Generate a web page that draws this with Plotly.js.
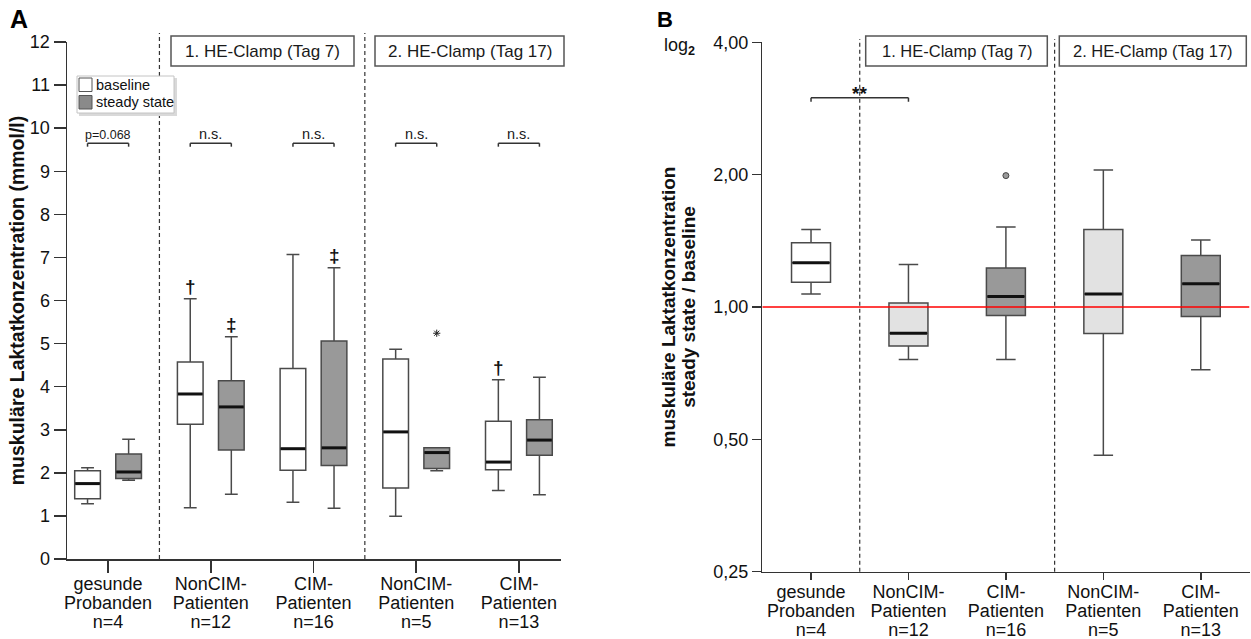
<!DOCTYPE html>
<html><head><meta charset="utf-8">
<script src="https://cdn.plot.ly/plotly-3.0.1.min.js"></script>
<style>html,body{margin:0;padding:0;background:#fff;} #chart{width:1251px;height:639px;}</style>
</head><body><div id="chart"></div>
<script>
// ---------- data ----------
const categoryLines = [
  ['gesunde', 'Probanden', 'n=4'],
  ['NonCIM-', 'Patienten', 'n=12'],
  ['CIM-', 'Patienten', 'n=16'],
  ['NonCIM-', 'Patienten', 'n=5'],
  ['CIM-', 'Patienten', 'n=13']
];
const seriesNames = ['baseline', 'steady state'];
const phaseLabels = ['1. HE-Clamp (Tag 7)', '2. HE-Clamp (Tag 17)'];

// Panel A: muskuläre Laktatkonzentration (mmol/l)
const baseLower  = [1.28, 1.19, 1.32, 0.99, 1.59];
const baseQ1     = [1.40, 3.13, 2.06, 1.65, 2.07];
const baseMedian = [1.75, 3.83, 2.56, 2.95, 2.25];
const baseQ3     = [2.05, 4.57, 4.42, 4.64, 3.20];
const baseUpper  = [2.12, 6.04, 7.07, 4.87, 4.16];
const steadyLower  = [1.83, 1.50, 1.18, 2.05, 1.49];
const steadyQ1     = [1.87, 2.53, 2.17, 2.10, 2.41];
const steadyMedian = [2.02, 3.53, 2.58, 2.47, 2.76];
const steadyQ3     = [2.44, 4.14, 5.06, 2.58, 3.23];
const steadyUpper  = [2.78, 5.16, 6.76, 2.58, 4.22];
const steadyExtremeGroup = [3];
const steadyExtremeValue = [5.24];
const baseMarks   = ['', '†', '', '', '†'];
const steadyMarks = ['', '‡', '‡', '', ''];
const pairLabels  = ['p=0.068', 'n.s.', 'n.s.', 'n.s.', 'n.s.'];
const yTicksA = [0,1,2,3,4,5,6,7,8,9,10,11,12];

// Panel B: ratio steady state / baseline (log2)
const ratioLower  = [1.07, 0.76, 0.76, 0.46, 0.72];
const ratioQ1     = [1.138, 0.815, 0.956, 0.87, 0.951];
const ratioMedian = [1.26, 0.871, 1.056, 1.07, 1.13];
const ratioQ3     = [1.40, 1.021, 1.227, 1.50, 1.31];
const ratioUpper  = [1.50, 1.25, 1.52, 2.05, 1.42];
const ratioOutlierGroup = [2];
const ratioOutlierValue = [1.99];
const ratioTicks    = [0.25, 0.5, 1, 2, 4];
const ratioTickText = ['0,25', '0,50', '1,00', '2,00', '4,00'];
const ratioSigLabel = '**';

// ---------- styles ----------
const FONT = 'Liberation Sans, Arial, Helvetica, sans-serif';
const W = 1251, H = 639;
const PX = v => v / W, PY = v => 1 - v / H;
const seriesFill = ['#ffffff', '#999999'];
const ratioFill = ['#ffffff', '#e2e2e2', '#999999', '#e2e2e2', '#999999'];
const BOXLINE = {color: '#4a4a4a', width: 1.5};
const idx = categoryLines.map((_, i) => i);
const tickText = categoryLines.map(l => l.map(s => '<span style="font-size:18px">' + s + '</span>').join('<br>'));

function medianLine(pos, med, half, xa, ya) {
  const xs = [], ys = [];
  pos.forEach((p, i) => { xs.push(p - half, p + half, null); ys.push(med[i], med[i], null); });
  return {type: 'scatter', mode: 'lines', x: xs, y: ys, xaxis: xa, yaxis: ya,
    line: {color: '#111', width: 3}, showlegend: false, hoverinfo: 'skip'};
}

const posBase = idx.map(i => i - 0.2);
const posSteady = idx.map(i => i + 0.2);

const traces = [
  {type: 'box', name: seriesNames[0], x: posBase, q1: baseQ1, median: baseMedian, q3: baseQ3,
   lowerfence: baseLower, upperfence: baseUpper, width: 0.25, whiskerwidth: 0.5,
   fillcolor: seriesFill[0], line: BOXLINE, boxpoints: false, showlegend: false, xaxis: 'x', yaxis: 'y'},
  {type: 'box', name: seriesNames[1], x: posSteady, q1: steadyQ1, median: steadyMedian, q3: steadyQ3,
   lowerfence: steadyLower, upperfence: steadyUpper, width: 0.25, whiskerwidth: 0.5,
   fillcolor: seriesFill[1], line: BOXLINE, boxpoints: false, showlegend: false, xaxis: 'x', yaxis: 'y'},
  medianLine(posBase, baseMedian, 0.12, 'x', 'y'),
  medianLine(posSteady, steadyMedian, 0.12, 'x', 'y'),
  {type: 'scatter', mode: 'markers', x: steadyExtremeGroup.map(g => g + 0.2), y: steadyExtremeValue,
   marker: {symbol: 'asterisk-open', size: 6, color: '#222', line: {color: '#222', width: 1}}, showlegend: false,
   xaxis: 'x', yaxis: 'y', hoverinfo: 'y'}
];

idx.forEach(i => {
  traces.push({type: 'box', name: categoryLines[i].join(' '), x: [i], q1: [ratioQ1[i]], median: [ratioMedian[i]],
    q3: [ratioQ3[i]], lowerfence: [ratioLower[i]], upperfence: [ratioUpper[i]], width: 0.4, whiskerwidth: 0.5,
    fillcolor: ratioFill[i], line: BOXLINE, boxpoints: false, showlegend: false, xaxis: 'x2', yaxis: 'y2'});
});
traces.push(medianLine(idx, ratioMedian, 0.19, 'x2', 'y2'));
traces.push({type: 'scatter', mode: 'markers', x: ratioOutlierGroup, y: ratioOutlierValue,
  marker: {symbol: 'circle', size: 6, color: '#9a9a9a', line: {color: '#444', width: 1}},
  showlegend: false, xaxis: 'x2', yaxis: 'y2', hoverinfo: 'y'});

// ---------- shapes ----------
const shapes = [];
const annotations = [];
const LINE = {color: '#333', width: 1.5};
[0.5, 2.5].forEach(v => {
  shapes.push({type: 'line', xref: 'x', yref: 'paper', x0: v, x1: v, y0: PY(559), y1: PY(33),
    line: {color: '#333', width: 1.2, dash: '4px,3px'}, layer: 'below'});
  shapes.push({type: 'line', xref: 'x2', yref: 'paper', x0: v, x1: v, y0: PY(571.7), y1: PY(39),
    line: {color: '#333', width: 1.2, dash: '4px,3px'}, layer: 'below'});
});
idx.forEach(i => {
  shapes.push({type: 'line', xref: 'x', yref: 'y', x0: i - 0.2, x1: i + 0.2, y0: 9.65, y1: 9.65, line: LINE});
  shapes.push({type: 'line', xref: 'x', yref: 'y', x0: i - 0.2, x1: i - 0.2, y0: 9.65, y1: 9.57, line: LINE});
  shapes.push({type: 'line', xref: 'x', yref: 'y', x0: i + 0.2, x1: i + 0.2, y0: 9.65, y1: 9.57, line: LINE});
});
shapes.push({type: 'line', xref: 'x2', yref: 'y2', x0: 0, x1: 1, y0: 2.99, y1: 2.99, line: LINE});
shapes.push({type: 'line', xref: 'x2', yref: 'y2', x0: 0, x1: 0, y0: 2.99, y1: 2.93, line: LINE});
shapes.push({type: 'line', xref: 'x2', yref: 'y2', x0: 1, x1: 1, y0: 2.99, y1: 2.93, line: LINE});
shapes.push({type: 'line', xref: 'x2', yref: 'y2', x0: -0.5, x1: 4.5, y0: 1, y1: 1,
  line: {color: '#ff0000', width: 1.5}, layer: 'above'});

// legend (panel A), drawn from seriesNames / seriesFill
shapes.push({type: 'rect', xref: 'paper', yref: 'paper', x0: PX(79), x1: PX(177), y0: PY(116), y1: PY(78),
  fillcolor: '#d9d9d9', line: {width: 0}, layer: 'above'});
shapes.push({type: 'rect', xref: 'paper', yref: 'paper', x0: PX(77), x1: PX(174), y0: PY(113), y1: PY(76),
  fillcolor: '#ffffff', line: {color: '#c4c4c4', width: 1}, layer: 'above'});
seriesNames.forEach((n, k) => {
  const top = 78 + k * 17.5;
  shapes.push({type: 'rect', xref: 'paper', yref: 'paper', x0: PX(79), x1: PX(92), y0: PY(top + 13.5), y1: PY(top),
    fillcolor: seriesFill[k] === '#ffffff' ? '#ffffff' : '#8a8a8a', line: {color: '#555', width: 1}, layer: 'above'});
  annotations.push({xref: 'paper', yref: 'paper', x: PX(93.5), y: PY(top + 7), text: n, showarrow: false,
    xanchor: 'left', yanchor: 'middle', font: {family: FONT, size: 14.5, color: '#111'}});
});

const headerBoxes = [
  {x0: 171, x1: 354, size: 17}, {x0: 375, x1: 564, size: 17},
  {x0: 865.7, x1: 1047.3, size: 16.5}, {x0: 1059.3, x1: 1246.3, size: 16.5}
];
headerBoxes.forEach((b, k) => {
  shapes.push({type: 'rect', xref: 'paper', yref: 'paper', x0: PX(b.x0), x1: PX(b.x1), y0: PY(66), y1: PY(36),
    fillcolor: '#ffffff', line: {color: '#555', width: 1.5}, layer: 'above'});
  annotations.push({xref: 'paper', yref: 'paper', x: PX((b.x0 + b.x1) / 2), y: PY(51), text: phaseLabels[k % 2],
    showarrow: false, xanchor: 'center', yanchor: 'middle', font: {family: FONT, size: b.size, color: '#1a1a1a'}});
});

idx.forEach(i => {
  annotations.push({xref: 'x', yref: 'y', x: i, y: 9.65, yanchor: 'bottom', yshift: -1, text: pairLabels[i],
    showarrow: false, font: {family: FONT, size: pairLabels[i].startsWith('p') ? 12.5 : 14.5, color: '#1a1a1a'}});
  if (baseMarks[i]) annotations.push({xref: 'x', yref: 'y', x: i - 0.2, y: baseUpper[i], yanchor: 'bottom', yshift: 0,
    text: '<b>' + baseMarks[i] + '</b>', showarrow: false, font: {family: FONT, size: 19, color: '#111'}});
  if (steadyMarks[i]) annotations.push({xref: 'x', yref: 'y', x: i + 0.2, y: steadyUpper[i], yanchor: 'bottom', yshift: 0,
    text: '<b>' + steadyMarks[i] + '</b>', showarrow: false, font: {family: FONT, size: 19, color: '#111'}});
});
annotations.push({xref: 'x2', yref: 'y2', x: 0.5, y: Math.log10(2.99), yanchor: 'bottom', yshift: -8,
  text: '<b>' + ratioSigLabel + '</b>', showarrow: false, font: {family: FONT, size: 19, color: '#111'}});
annotations.push({xref: 'paper', yref: 'paper', x: PX(19), y: PY(19), xanchor: 'center', yanchor: 'middle',
  text: '<b>A</b>', showarrow: false, font: {family: FONT, size: 25, color: '#000'}});
annotations.push({xref: 'paper', yref: 'paper', x: PX(665), y: PY(19.5), xanchor: 'center', yanchor: 'middle',
  text: '<b>B</b>', showarrow: false, font: {family: FONT, size: 22, color: '#000'}});
annotations.push({xref: 'paper', yref: 'paper', x: PX(679), y: PY(47), xanchor: 'center', yanchor: 'middle',
  text: 'log<sub><b>2</b></sub>', showarrow: false, font: {family: FONT, size: 18, color: '#111'}});

const axisCommon = {showline: true, linecolor: '#333', linewidth: 1.5, ticks: 'outside', tickcolor: '#333',
  tickwidth: 1.5, showgrid: false, zeroline: false, fixedrange: true};

const layout = {
  width: W, height: H, margin: {l: 0, r: 0, t: 0, b: 0}, paper_bgcolor: '#fff', plot_bgcolor: '#fff',
  font: {family: FONT, color: '#111'}, boxmode: 'overlay', hovermode: false, showlegend: false,
  xaxis: Object.assign({}, axisCommon, {domain: [PX(67), PX(561)], range: [-0.4, 4.41], anchor: 'y',
    tickvals: idx, ticktext: tickText, ticklen: 12, tickfont: {family: FONT, size: 14.6, color: '#111'}}),
  yaxis: Object.assign({}, axisCommon, {domain: [PY(559), PY(42)], range: [0, 12], anchor: 'x',
    tickvals: yTicksA, ticklen: 12, tickfont: {family: FONT, size: 18, color: '#111'},
    title: {text: 'muskuläre Laktatkonzentration (mmol/l)', standoff: 0,
      font: {family: FONT, size: 19.5, weight: 'bold', color: '#111'}}}),
  xaxis2: Object.assign({}, axisCommon, {domain: [PX(762.3), PX(1249.5)], range: [-0.5, 4.5], anchor: 'y2',
    tickvals: idx, ticktext: tickText, ticklen: 7, tickfont: {family: FONT, size: 14.6, color: '#111'}}),
  yaxis2: Object.assign({}, axisCommon, {domain: [PY(571.7), PY(42.3)], type: 'log',
    range: [Math.log10(0.25), Math.log10(4)], anchor: 'x2', tickvals: ratioTicks, ticktext: ratioTickText,
    ticklen: 9, tickfont: {family: FONT, size: 18, color: '#111'},
    title: {text: '<span style="font-size:19px">muskuläre Laktatkonzentration</span><br><span style="font-size:19px">steady state / baseline</span>',
      standoff: 14, font: {family: FONT, size: 15, weight: 'bold', color: '#111'}}}),
  shapes: shapes, annotations: annotations
};

Plotly.newPlot('chart', traces, layout, {displayModeBar: false, staticPlot: true});
</script></body></html>
